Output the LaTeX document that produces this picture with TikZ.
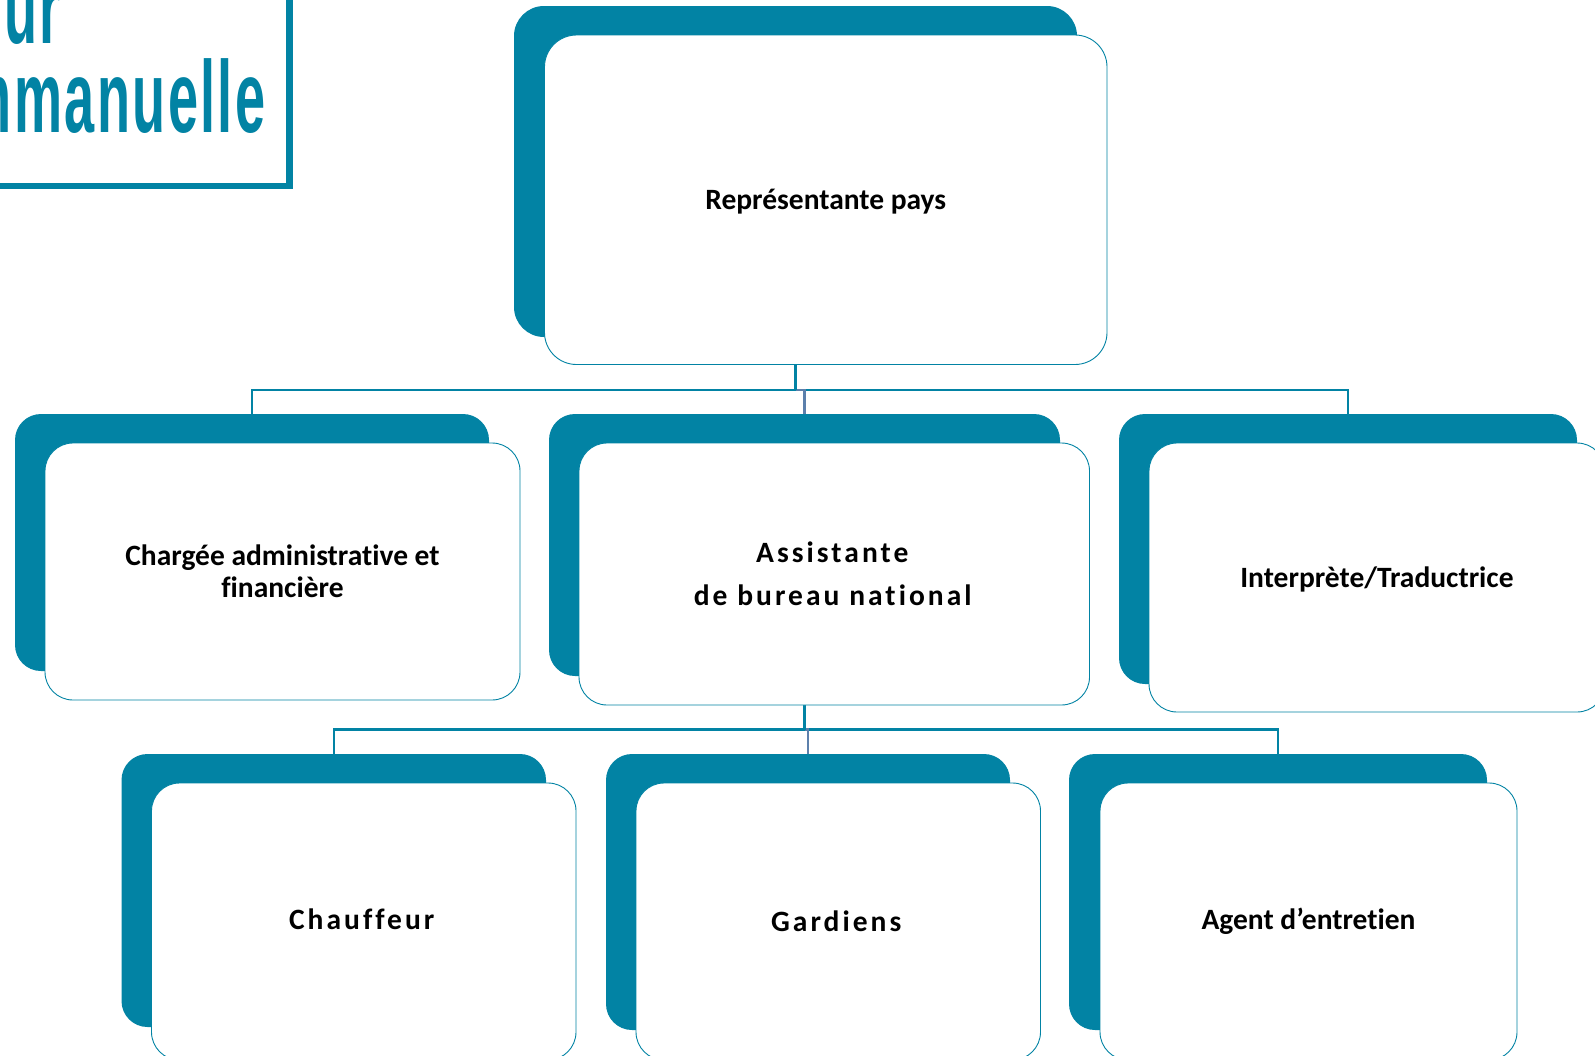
\documentclass[tikz,border=0pt]{standalone}
\usepackage{fontspec}
\setmainfont{Carlito}[Ligatures=NoCommon]
\newfontfamily\spaced[LetterSpace=10.3,Ligatures=NoCommon]{Carlito}
\newfontfamily\logofont[LetterSpace=4.5]{Liberation Sans}
\usepackage{xcolor}
\usetikzlibrary{positioning}
\definecolor{orgteal}{HTML}{0283A4}
\definecolor{orgslate}{HTML}{5C80AC}
\newcommand{\nudged}[2]{\raisebox{#1}[\height][\depth]{#2}}
\tikzset{
    backbox/.style={fill=orgteal, rounded corners=26pt, inner sep=0pt, outer sep=0pt},
    frontbox/.style={draw=orgteal, fill=white, line width=.9pt, rounded corners=28pt, inner sep=0pt, outer sep=0pt, align=center, font=\fontsize{29.5}{32}\selectfont\bfseries},
    link/.style={draw=orgteal, line width=2.4pt},
    linkalt/.style={draw=orgslate, line width=2.4pt},
    logotext/.style={text=orgteal, inner sep=0pt, outer sep=0pt, font=\logofont\bfseries\fontsize{102}{102}\selectfont}
}
\begin{document}
\begin{tikzpicture}[x=1pt, y=-1pt]
            \clip (0,0) rectangle (1595,1055);
            \fill[white] (0,0) rectangle (1595,1055);

            \draw[orgteal, line width=6.7pt] (-20,-20) rectangle (289.5,186);
            \node[logotext, anchor=base east] (logoa) at (60.5,43) {\scalebox{.53}[1]{Soeur}};
            \node[logotext, anchor=base east] (logob) at (265.5,132) {\scalebox{.53}[1]{Emmanuelle}};

            \node[backbox, minimum width=563pt, minimum height=331pt, rounded corners=30pt] (repback) at (795.5,171.5) {};

            \node[backbox, minimum width=474pt, minimum height=257pt] (adminback) at (252,542.5) {};
            \node[backbox, minimum width=511pt, minimum height=262pt] (assistback) at (804.5,545) {};
            \node[backbox, minimum width=458pt, minimum height=270pt] (interpback) at (1348,549) {};

            \node[backbox, minimum width=424.5pt, minimum height=273pt] (driverback) at (333.75,890.5) {};
            \node[backbox, minimum width=404pt, minimum height=276pt] (guardback) at (808,892) {};
            \node[backbox, minimum width=418pt, minimum height=276pt] (cleanback) at (1278,892) {};

            \foreach \child in {adminback,interpback} {
                \draw[link] (repback.south) -- ++(0,53) -| (\child.north);
            }
            \draw[linkalt] (repback.south) ++(0,53) -| (assistback.north);
            \draw[link] (repback.south) -- ++(0,53);

            \foreach \child in {driverback,cleanback} {
                \draw[link] (assistback.south) -- ++(0,53.5) -| (\child.north);
            }
            \draw[linkalt] (assistback.south) ++(0,53.5) -| (guardback.north);
            \draw[link] (assistback.south) -- ++(0,53.5);

            \node[frontbox, minimum width=562.5pt, minimum height=329.5pt, rounded corners=32pt] (rep) at (825.75,199.75) {\nudged{-1.5pt}{Représentante pays}};

            \node[frontbox, minimum width=475pt, minimum height=257pt] (admin) at (282.5,571.5) {Chargée administrative et\\financière};
            \node[frontbox, minimum width=510.5pt, minimum height=262pt] (assist) at (834.25,574) {\spaced Assistante\kern4pt\\[11pt]\spaced de bureau national\kern3pt};
            \node[frontbox, minimum width=456pt, minimum height=269pt] (interp) at (1377,577.5) {\nudged{-2pt}{Interprète/Traductrice}};

            \node[frontbox, minimum width=424.5pt, minimum height=277pt] (driver) at (363.75,921.5) {\nudged{2pt}{\spaced Chauffeur\kern4pt}};
            \node[frontbox, minimum width=404.5pt, minimum height=277pt] (guard) at (838.25,921.5) {\spaced Gardiens\kern4pt};
            \node[frontbox, minimum width=417pt, minimum height=277pt] (clean) at (1308.5,921.5) {Agent d’entretien};
        \end{tikzpicture}
\end{document}
